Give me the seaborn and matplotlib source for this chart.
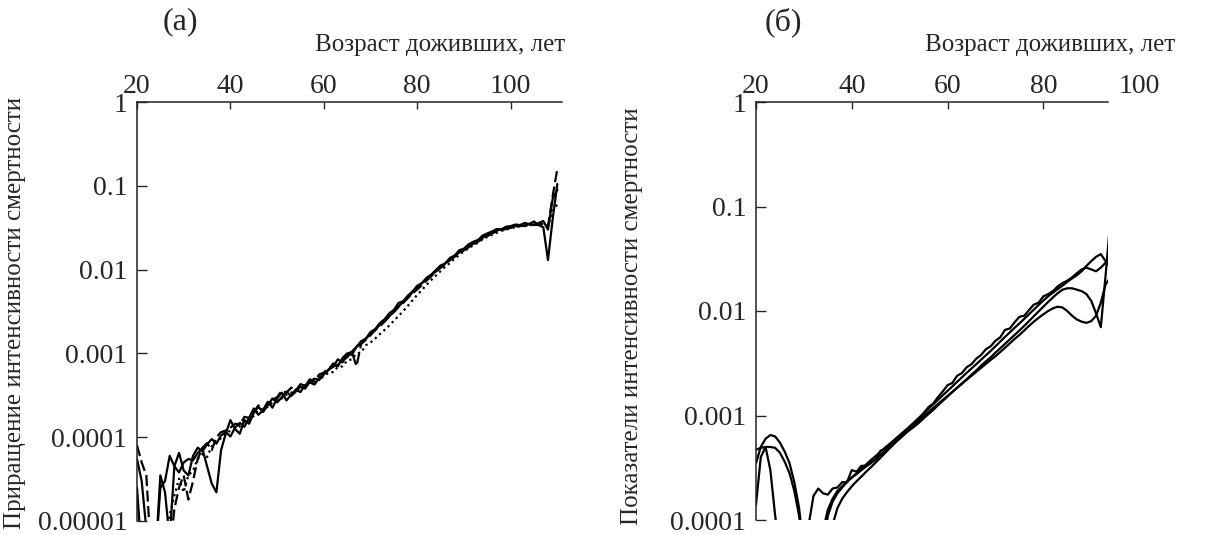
import matplotlib
matplotlib.use('Agg')
import matplotlib.pyplot as plt
import pandas as pd
import seaborn as sns

# ---- panel (a): mortality increments, ages 20..110 ----
ages_a = list(range(20, 111))

a_solid1 = [5.5e-5, 3.0e-5, 8e-6, 4e-6, 4e-6, 3.5e-5, 2.2e-5, 6e-6, 4.5e-5, 6.5e-5,
            4.0e-5, 3.5e-5, 6.0e-5, 7.5e-5, 6.8e-5, 8.2e-5, 9.5e-5, 8.4e-5, 1.05e-4, 1.15e-4,
            1.02e-4, 1.3e-4, 1.48e-4, 1.33e-4, 1.7e-4, 2.2e-4, 1.85e-4, 2.1e-4, 2.65e-4, 2.25e-4,
            2.9e-4, 3.4e-4, 2.75e-4, 3.2e-4, 3.7e-4, 3.45e-4, 4.2e-4, 4.5e-4, 4.25e-4, 5.1e-4,
            5.7e-4, 6.4e-4, 6.9e-4, 8.5e-4, 7.8e-4, 9.8e-4, 1.05e-3, 1.2e-3, 1.4e-3, 1.5e-3,
            1.8e-3, 1.95e-3, 2.3e-3, 2.55e-3, 3.0e-3, 3.3e-3, 4.0e-3, 4.2e-3, 4.9e-3, 5.5e-3,
            6.4e-3, 6.9e-3, 8.0e-3, 8.7e-3, 9.9e-3, 1.12e-2, 1.18e-2, 1.38e-2, 1.47e-2, 1.7e-2,
            1.78e-2, 2.0e-2, 2.15e-2, 2.25e-2, 2.55e-2, 2.7e-2, 2.85e-2, 3.05e-2, 3.0e-2, 3.25e-2,
            3.3e-2, 3.45e-2, 3.4e-2, 3.6e-2, 3.5e-2, 3.75e-2, 3.4e-2, 3.2e-2, 1.3e-2, 4.0e-2,
            1.05e-1]
a_solid2 = [2.5e-5, 4e-6, 4e-6, 4e-6, 4e-6, 2.5e-5, 3.0e-5, 6.0e-5, 4.5e-5, 3.8e-5,
            5.0e-5, 5.5e-5, 5.3e-5, 6.5e-5, 7.3e-5, 4.5e-5, 2.8e-5, 2.2e-5, 7.0e-5, 1.1e-4,
            1.6e-4, 1.25e-4, 1.1e-4, 1.6e-4, 1.45e-4, 1.95e-4, 2.3e-4, 2.0e-4, 2.4e-4, 2.9e-4,
            2.6e-4, 3.0e-4, 3.5e-4, 3.1e-4, 3.5e-4, 4.0e-4, 3.8e-4, 4.6e-4, 5.0e-4, 4.8e-4,
            5.6e-4, 6.3e-4, 7.6e-4, 7.0e-4, 8.8e-4, 1.0e-3, 9.6e-4, 1.2e-3, 1.3e-3, 1.5e-3,
            1.7e-3, 1.9e-3, 2.2e-3, 2.4e-3, 2.75e-3, 3.2e-3, 3.6e-3, 4.2e-3, 4.6e-3, 5.4e-3,
            6.0e-3, 6.9e-3, 7.6e-3, 8.6e-3, 9.5e-3, 1.05e-2, 1.2e-2, 1.3e-2, 1.45e-2, 1.6e-2,
            1.75e-2, 1.85e-2, 2.05e-2, 2.25e-2, 2.4e-2, 2.6e-2, 2.75e-2, 2.9e-2, 3.05e-2, 3.1e-2,
            3.2e-2, 3.3e-2, 3.4e-2, 3.3e-2, 3.5e-2, 3.4e-2, 3.6e-2, 3.8e-2, 3.0e-2, 7.0e-2,
            9.0e-2]
a_dashed = [8.0e-5, 5.0e-5, 3.5e-5, 4e-6, 4e-6, 4e-6, 4e-6, 4e-6, 1.4e-5, 2.5e-5,
            3.5e-5, 1.8e-5, 3.0e-5, 5.5e-5, 7.5e-5, 8.5e-5, 7.0e-5, 1.0e-4, 1.15e-4, 1.2e-4,
            1.3e-4, 1.45e-4, 1.4e-4, 1.75e-4, 1.7e-4, 2.0e-4, 2.4e-4, 2.1e-4, 2.55e-4, 2.8e-4,
            3.0e-4, 3.6e-4, 3.4e-4, 3.9e-4, 3.6e-4, 4.3e-4, 4.1e-4, 4.9e-4, 4.6e-4, 5.6e-4,
            5.9e-4, 6.7e-4, 7.0e-4, 7.3e-4, 8.2e-4, 9.0e-4, 1.05e-3, 7.0e-4, 1.3e-3, 1.45e-3,
            1.65e-3, 1.9e-3, 2.1e-3, 2.4e-3, 2.8e-3, 3.1e-3, 3.6e-3, 4.0e-3, 4.6e-3, 5.2e-3,
            5.8e-3, 6.5e-3, 7.4e-3, 8.3e-3, 9.6e-3, 1.05e-2, 1.15e-2, 1.3e-2, 1.42e-2, 1.55e-2,
            1.7e-2, 1.85e-2, 2.0e-2, 2.15e-2, 2.35e-2, 2.5e-2, 2.7e-2, 2.85e-2, 2.95e-2, 3.05e-2,
            3.15e-2, 3.25e-2, 3.3e-2, 3.35e-2, 3.4e-2, 3.45e-2, 3.4e-2, 3.6e-2, 3.3e-2, 7.5e-2,
            1.6e-1]
a_dotted = [4e-6, 4e-6, 4e-6, 4e-6, 4e-6, 4e-6, 4e-6, 1.2e-5, 2.0e-5, 3.2e-5,
            2.2e-5, 3.5e-5, 4.0e-5, 5.5e-5, 6.3e-5, 5.8e-5, 7.8e-5, 8.5e-5, 9.8e-5, 1.1e-4,
            1.2e-4, 1.25e-4, 1.35e-4, 1.55e-4, 1.6e-4, 1.8e-4, 2.1e-4, 2.2e-4, 2.3e-4, 2.6e-4,
            2.8e-4, 2.9e-4, 3.2e-4, 3.4e-4, 3.6e-4, 3.9e-4, 4.1e-4, 4.3e-4, 4.6e-4, 5.0e-4,
            5.3e-4, 5.9e-4, 6.0e-4, 6.9e-4, 7.0e-4, 8.2e-4, 8.5e-4, 1.0e-3, 1.03e-3, 1.25e-3,
            1.35e-3, 1.5e-3, 1.7e-3, 1.9e-3, 2.15e-3, 2.45e-3, 2.8e-3, 3.2e-3, 3.7e-3, 4.3e-3,
            5.0e-3, 5.7e-3, 6.6e-3, 7.5e-3, 8.5e-3, 9.6e-3, 1.08e-2, 1.2e-2, 1.35e-2, 1.5e-2,
            1.65e-2, 1.8e-2, 1.95e-2, 2.1e-2, 2.3e-2, 2.45e-2, 2.6e-2, 2.75e-2, 2.9e-2, 3.0e-2,
            3.1e-2, 3.2e-2, 3.3e-2, 3.35e-2, 3.4e-2, 3.4e-2, 3.45e-2, 3.5e-2, 3.3e-2, 5.0e-2,
            6.0e-2]

# ---- panel (b): mortality indices, ages 20..94 ----
ages_b = list(range(20, 95))

b_curve1 = [5e-5, 5e-5, 5e-5, 5e-5, 5e-5, 5e-5, 5e-5, 5e-5, 5e-5, 5e-5,
            5e-5, 9e-5, 1.7e-4, 2.0e-4, 1.8e-4, 1.75e-4, 2.0e-4, 2.05e-4, 2.3e-4, 2.3e-4,
            3.0e-4, 2.9e-4, 3.3e-4, 3.3e-4, 3.6e-4, 3.8e-4, 4.6e-4, 4.8e-4, 5.3e-4, 5.6e-4,
            6.3e-4, 6.6e-4, 7.6e-4, 8.2e-4, 9.3e-4, 1.05e-3, 1.2e-3, 1.3e-3, 1.5e-3, 1.7e-3,
            1.95e-3, 2.05e-3, 2.4e-3, 2.55e-3, 2.9e-3, 3.1e-3, 3.5e-3, 3.8e-3, 4.3e-3, 4.6e-3,
            5.2e-3, 5.6e-3, 6.6e-3, 6.8e-3, 7.8e-3, 8.8e-3, 9.0e-3, 1.02e-2, 1.15e-2, 1.2e-2,
            1.38e-2, 1.45e-2, 1.55e-2, 1.72e-2, 1.85e-2, 1.95e-2, 2.1e-2, 2.3e-2, 2.5e-2, 2.6e-2,
            2.5e-2, 2.4e-2, 2.6e-2, 2.9e-2, 3.2e-2]
b_curve2 = [4.7e-4, 4.9e-4, 5.0e-4, 5.0e-4, 4.9e-4, 4.4e-4, 3.6e-4, 2.8e-4, 1.9e-4, 1.1e-4,
            5e-5, 5e-5, 5e-5, 5e-5, 8e-5, 1.25e-4, 1.6e-4, 1.9e-4, 2.1e-4, 2.35e-4,
            2.55e-4, 2.75e-4, 3.0e-4, 3.25e-4, 3.5e-4, 3.8e-4, 4.2e-4, 4.6e-4, 5.0e-4, 5.5e-4,
            6.0e-4, 6.6e-4, 7.2e-4, 7.8e-4, 8.5e-4, 9.4e-4, 1.03e-3, 1.13e-3, 1.25e-3, 1.38e-3,
            1.52e-3, 1.68e-3, 1.85e-3, 2.03e-3, 2.23e-3, 2.46e-3, 2.7e-3, 3.0e-3, 3.3e-3, 3.6e-3,
            4.0e-3, 4.4e-3, 4.85e-3, 5.35e-3, 5.9e-3, 6.5e-3, 7.2e-3, 8.0e-3, 8.9e-3, 9.9e-3,
            1.1e-2, 1.22e-2, 1.35e-2, 1.48e-2, 1.6e-2, 1.65e-2, 1.65e-2, 1.6e-2, 1.55e-2, 1.45e-2,
            1.25e-2, 9.5e-3, 7.0e-3, 2.2e-2, 7.5e-2]
b_curve3 = [3.5e-4, 5.0e-4, 6.0e-4, 6.5e-4, 6.3e-4, 5.5e-4, 4.5e-4, 3.5e-4, 2.3e-4, 1.3e-4,
            5e-5, 5e-5, 5e-5, 5e-5, 5e-5, 5e-5, 9e-5, 1.3e-4, 1.6e-4, 1.85e-4,
            2.1e-4, 2.35e-4, 2.6e-4, 2.9e-4, 3.2e-4, 3.55e-4, 3.95e-4, 4.4e-4, 4.9e-4, 5.45e-4,
            6.05e-4, 6.7e-4, 7.4e-4, 8.1e-4, 8.9e-4, 9.8e-4, 1.08e-3, 1.18e-3, 1.29e-3, 1.41e-3,
            1.54e-3, 1.68e-3, 1.84e-3, 2.01e-3, 2.2e-3, 2.4e-3, 2.62e-3, 2.86e-3, 3.12e-3, 3.4e-3,
            3.7e-3, 4.05e-3, 4.45e-3, 4.9e-3, 5.4e-3, 5.9e-3, 6.5e-3, 7.2e-3, 7.9e-3, 8.6e-3,
            9.3e-3, 1.0e-2, 1.06e-2, 1.1e-2, 1.08e-2, 1.0e-2, 9.0e-3, 8.3e-3, 7.9e-3, 7.7e-3,
            8.0e-3, 9.0e-3, 1.2e-2, 1.8e-2, 2.1e-2]
b_curve4 = [1.4e-4, 4.0e-4, 5.0e-4, 3.0e-4, 1.1e-4, 5e-5, 5e-5, 5e-5, 5e-5, 5e-5,
            5e-5, 5e-5, 5e-5, 5e-5, 5e-5, 1.1e-4, 1.5e-4, 1.8e-4, 2.05e-4, 2.3e-4,
            2.55e-4, 2.8e-4, 3.1e-4, 3.4e-4, 3.75e-4, 4.1e-4, 4.5e-4, 4.95e-4, 5.4e-4, 5.9e-4,
            6.5e-4, 7.1e-4, 7.8e-4, 8.6e-4, 9.5e-4, 1.05e-3, 1.16e-3, 1.28e-3, 1.41e-3, 1.56e-3,
            1.72e-3, 1.9e-3, 2.1e-3, 2.32e-3, 2.56e-3, 2.82e-3, 3.1e-3, 3.42e-3, 3.77e-3, 4.15e-3,
            4.6e-3, 5.1e-3, 5.65e-3, 6.25e-3, 6.9e-3, 7.6e-3, 8.4e-3, 9.3e-3, 1.03e-2, 1.14e-2,
            1.26e-2, 1.38e-2, 1.5e-2, 1.62e-2, 1.75e-2, 1.9e-2, 2.05e-2, 2.2e-2, 2.4e-2, 2.7e-2,
            3.0e-2, 3.3e-2, 3.5e-2, 3.0e-2, 2.6e-2]

x_ticks = [20, 40, 60, 80, 100]
y_ticks_a = [1e-5, 1e-4, 1e-3, 1e-2, 1e-1, 1]
y_labels_a = ['0.00001', '0.0001', '0.001', '0.01', '0.1', '1']
y_ticks_b = [1e-4, 1e-3, 1e-2, 1e-1, 1]
y_labels_b = ['0.0001', '0.001', '0.01', '0.1', '1']

x_label = 'Возраст доживших, лет'
y_label_a = 'Приращение интенсивности смертности'
y_label_b = 'Показатели интенсивности смертности'

TICK_SIZE = 20
LABEL_SIZE = 18


def long_frame(ages, series):
    rows = []
    for name, values in series.items():
        rows.append(pd.DataFrame({'age': ages, 'value': values, 'curve': name}))
    return pd.concat(rows, ignore_index=True)


def style_axes(ax, xlim, yticks, ylabels):
    ax.set_yscale('log')
    ax.set_xlim(*xlim)
    ax.set_ylim(yticks[0], yticks[-1])
    ax.set_xticks([t for t in x_ticks if t <= xlim[1]])
    ax.set_yticks(yticks)
    ax.set_yticklabels(ylabels)
    ax.minorticks_off()
    ax.xaxis.tick_top()
    ax.set_xlabel('')
    ax.set_ylabel('')
    for side in ['right', 'bottom']:
        ax.spines[side].set_visible(False)
    for side in ['left', 'top']:
        ax.spines[side].set_linewidth(1.1)
        ax.spines[side].set_color('#222222')
    ax.tick_params(axis='x', direction='in', length=5, width=1, pad=2, labelsize=TICK_SIZE)
    ax.tick_params(axis='y', direction='in', length=7, width=1, pad=7, labelsize=TICK_SIZE)


sns.set_style(style='ticks')
plt.rcParams['font.family'] = ['Liberation Serif', 'DejaVu Serif']

fig = plt.figure(figsize=(12.1, 5.35), dpi=100)
ax_a = fig.add_axes([137 / 1210, 14 / 535, 425 / 1210, 419 / 535])
ax_b = fig.add_axes([756 / 1210, 15 / 535, 352 / 1210, 418 / 535])

data_a = long_frame(ages_a, {'solid1': a_solid1, 'solid2': a_solid2,
                             'dashed': a_dashed, 'dotted': a_dotted})
sns.lineplot(data=data_a, x='age', y='value', units='curve', estimator=None,
             style='curve', dashes={'solid1': '', 'solid2': '', 'dashed': (5, 2), 'dotted': (1, 1.6)},
             color='black', linewidth=1.6, legend=False, ax=ax_a)

data_b = long_frame(ages_b, {'c1': b_curve1, 'c2': b_curve2, 'c3': b_curve3, 'c4': b_curve4})
sns.lineplot(data=data_b, x='age', y='value', units='curve', estimator=None,
             color='black', linewidth=1.6, legend=False, ax=ax_b)

style_axes(ax_a, (20, 111), y_ticks_a, y_labels_a)
style_axes(ax_b, (20, 93.5), y_ticks_b, y_labels_b)

# the 100 label of panel (b) sits past the end of its axis line
ax_b.annotate('100', xy=(100, 1), xycoords=('data', 'axes fraction'),
              xytext=(0, 2), textcoords='offset points', ha='center', va='bottom',
              fontsize=TICK_SIZE, annotation_clip=False)

fig.text(180 / 1210, 1 - 22 / 535, '(a)', ha='center', va='center', fontsize=23)
fig.text(783 / 1210, 1 - 22 / 535, '(б)', ha='center', va='center', fontsize=23)
fig.text(565 / 1210, 1 - 45 / 535, x_label, ha='right', va='center', fontsize=LABEL_SIZE)
fig.text(1175 / 1210, 1 - 45 / 535, x_label, ha='right', va='center', fontsize=LABEL_SIZE)
fig.text(15 / 1210, 1 - 313 / 535, y_label_a, rotation=90, ha='center', va='center', fontsize=LABEL_SIZE)
fig.text(632 / 1210, 1 - 316 / 535, y_label_b, rotation=90, ha='center', va='center', fontsize=LABEL_SIZE)

fig.savefig('out.png', dpi=100)
plt.close(fig)
